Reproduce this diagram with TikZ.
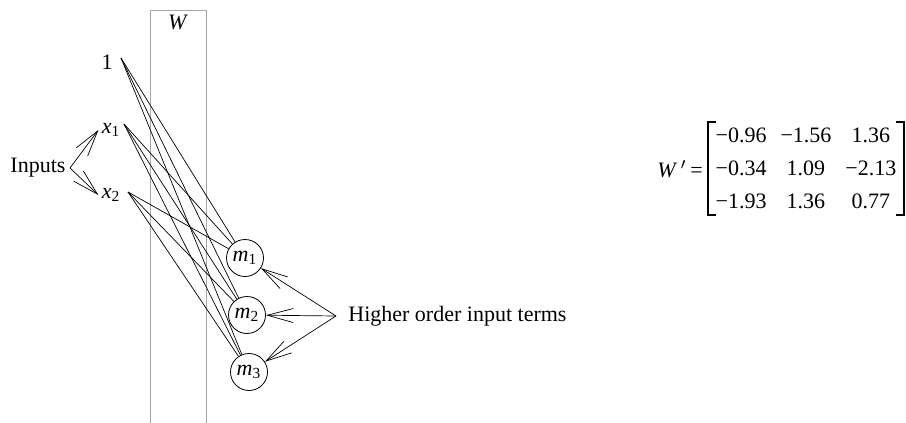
\documentclass[tikz,border=0pt]{standalone}
\usepackage{fontspec}
\setmainfont{Liberation Serif}
\usetikzlibrary{arrows.meta,positioning,calc}

\begin{document}
\begin{tikzpicture}[x=0.5pt,y=-0.5pt,font=\fontsize{11}{13}\selectfont,
  hid/.style={circle,draw,line width=0.4pt,inner sep=0pt,minimum size=18.5pt},
  lbl/.style={inner sep=1.5pt},
  tip/.style={line width=0.35pt,-{Straight Barb[length=13pt,width=7pt,line width=0.35pt]}},
  wire/.style={line width=0.35pt}]
\useasboundingbox (0,0) rectangle (906,423);

% Weight layer
\draw[gray!70,line width=0.4pt] (150,423) -- (150,10) -- (206,10) -- (206,423);
\node[lbl] (wlab) at (178,22) {\textit{W}};

% Inputs
\node[lbl] (one) at (107,62) {1};
\node[lbl] (x1) at (111,130) {\textit{x}\textsubscript{1}};
\node[lbl] (x2) at (111,195) {\textit{x}\textsubscript{2}};
\node[lbl] (inp) at (38,168) {Inputs};
\coordinate (one-o) at (121,58);
\coordinate (x1-o) at (124,124);
\coordinate (x2-o) at (128,192);
\coordinate (inp-o) at (70,168);
\draw[tip] (inp-o) -- (x1.west);
\draw[tip] (inp-o) -- (x2.west);

% Higher order units
\node[hid] (m1) at (245,258) {\textit{m}\textsubscript{1}};
\node[hid] (m2) at (247,315) {\textit{m}\textsubscript{2}};
\node[hid] (m3) at (249,372) {\textit{m}\textsubscript{3}};

% Weights
\draw[wire] (one-o) -- (m1);
\draw[wire] (one-o) -- (m2);
\draw[wire] (one-o) -- (m3);
\draw[wire] (x1-o) -- (m1);
\draw[wire] (x1-o) -- (m2);
\draw[wire] (x1-o) -- (m3);
\draw[wire] (x2-o) -- (m1);
\draw[wire] (x2-o) -- (m2);
\draw[wire] (x2-o) -- (m3);

% Higher order terms
\node[lbl,anchor=west] (hot) at (345,316) {Higher order input terms};
\coordinate (hot-o) at (336,316);
\draw[tip] (hot-o) -- (m1);
\draw[tip] (hot-o) -- (m2);
\draw[tip] (hot-o) -- (m3);

% Trained weight matrix
\node[lbl] (wp) at (680,169) {\textit{W}$\,'$\,=};
\node[inner sep=0pt] (wmat) at (806,169) {\fontsize{11}{16.3}\selectfont
  \begin{tabular}{@{}r@{\hspace{7pt}}c@{\hspace{7pt}}c@{}}
  −0.96 & −1.56 & 1.36\\
  −0.34 & 1.09 & −2.13\\
  −1.93 & 1.36 & 0.77
  \end{tabular}};
\draw[line width=0.6pt] (716,122) -- (708,122) -- (708,215) -- (716,215);
\draw[line width=0.6pt] (896,122) -- (904,122) -- (904,215) -- (896,215);
\end{tikzpicture}
\end{document}
